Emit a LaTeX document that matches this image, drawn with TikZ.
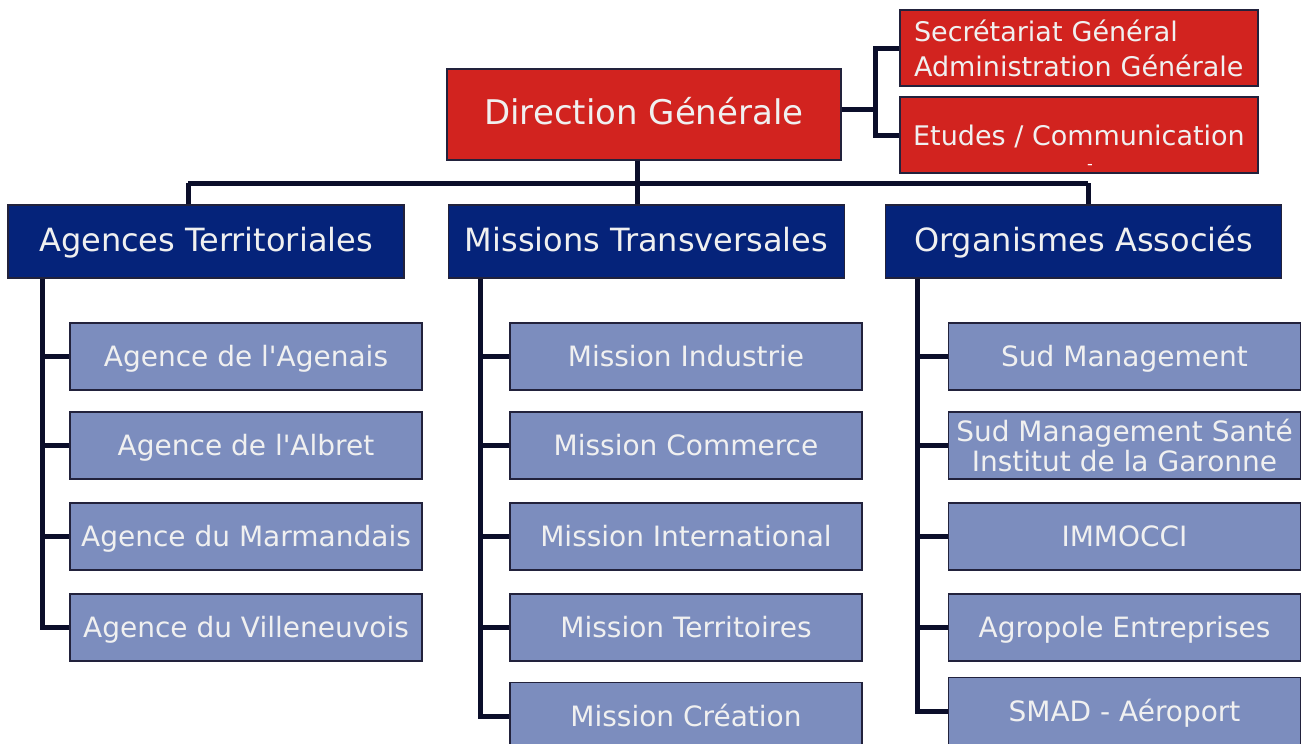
\documentclass[tikz,border=0pt]{standalone}
\usepackage{fontspec}
\setmainfont{DejaVu Sans}
\usepackage{xcolor}
\usepackage{tikz}

\definecolor{rouge}{HTML}{D2231F}
\definecolor{bleufonce}{HTML}{05237A}
\definecolor{bleuclair}{HTML}{7C8DBE}
\definecolor{trait}{HTML}{0B0E2A}
\definecolor{bord}{HTML}{22223C}

\begin{document}
\begin{tikzpicture}[x=0.5pt,y=-0.5pt,line join=miter]
	\tikzstyle{boite} = [draw=bord,line width=0.8pt,inner sep=0pt,text=white!94!black,align=center,text height=1em,text depth=0em]
	\tikzstyle{direction} = [boite,fill=rouge,minimum width=197pt,minimum height=45.5pt,font=\fontsize{17}{20}\selectfont]
	\tikzstyle{annexe} = [boite,fill=rouge,minimum width=179pt,minimum height=38pt,font=\fontsize{13.5}{17.5}\selectfont]
	\tikzstyle{pole} = [boite,fill=bleufonce,minimum width=198pt,minimum height=36.5pt,font=\fontsize{16}{19}\selectfont]
	\tikzstyle{unite} = [boite,fill=bleuclair,minimum width=176pt,minimum height=33.5pt,font=\fontsize{14}{15}\selectfont]
	\tikzstyle{deux} = [text height={},text depth={}]
	\tikzstyle{lien} = [draw=trait,line width=2.5pt]
	\useasboundingbox (0,0) rectangle (1303,744);
	\clip (0,0) rectangle (1303,744);
	% direction
	\node[direction]	(dg)	at (644,114.5)	{Direction Générale};
	\node[annexe,deux,align=left,text width=165pt]	(sg)	at (1079,48)	{Secrétariat Général\\Administration Générale};
	\node[annexe]		(et)	at (1079,135)	{Etudes / Communication};
	\node[text=white,font=\fontsize{8}{8}\selectfont,inner sep=0pt]	(tiret)	at (1090,167)	{-};
	% poles
	\node[pole]	(at)	at (206,241.5)		{Agences Territoriales};
	\node[pole]	(mt)	at (646.5,241.5)	{Missions Transversales};
	\node[pole]	(oa)	at (1083.5,241.5)	{Organismes Associés};
	% agences
	\node[unite]	(a1)	at (246,356.5)	{Agence de l\textquotesingle Agenais};
	\node[unite]	(a2)	at (246,445.5)	{Agence de l\textquotesingle Albret};
	\node[unite]	(a3)	at (246,536.5)	{Agence du Marmandais};
	\node[unite]	(a4)	at (246,627.5)	{Agence du Villeneuvois};
	% missions
	\node[unite]	(m1)	at (686,356.5)	{Mission Industrie};
	\node[unite]	(m2)	at (686,445.5)	{Mission Commerce};
	\node[unite]	(m3)	at (686,536.5)	{Mission International};
	\node[unite]	(m4)	at (686,627.5)	{Mission Territoires};
	\node[unite]	(m5)	at (686,716)	{Mission Création};
	% organismes
	\node[unite]	(o1)	at (1124.5,356.5)	{Sud Management};
	\node[unite,deux]	(o2)	at (1124.5,445.5)	{Sud Management Santé\\Institut de la Garonne};
	\node[unite]	(o3)	at (1124.5,536.5)	{IMMOCCI};
	\node[unite]	(o4)	at (1124.5,627.5)	{Agropole Entreprises};
	\node[unite]	(o5)	at (1124.5,711)		{SMAD - Aéroport};
	% liaisons
	\coordinate (sx) at (875,109);
	\coordinate (b1) at (188,183);
	\coordinate (b2) at (637,183);
	\coordinate (b3) at (1088,183);
	\coordinate (s1) at (42,0);
	\coordinate (s2) at (480,0);
	\coordinate (s3) at (917,0);
	\path[lien]	(dg.east |- sx) -- (sx)
			(sg.west) -| (sx) |- (et.west)
			(b2 |- dg.south) -- (b2)
			(b1) -- (b3)
			(b1) -- (b1 |- at.north)
			(b2) -- (b2 |- mt.north)
			(b3) -- (b3 |- oa.north)
			(s1 |- at.south) |- (a4.west)
			(s2 |- mt.south) |- (m5.west)
			(s3 |- oa.south) |- (o5.west);
	\foreach \n in {a1,a2,a3}
		\path[lien] (s1 |- \n.west) -- (\n.west);
	\foreach \n in {m1,m2,m3,m4}
		\path[lien] (s2 |- \n.west) -- (\n.west);
	\foreach \n in {o1,o2,o3,o4}
		\path[lien] (s3 |- \n.west) -- (\n.west);
\end{tikzpicture}
\end{document}
